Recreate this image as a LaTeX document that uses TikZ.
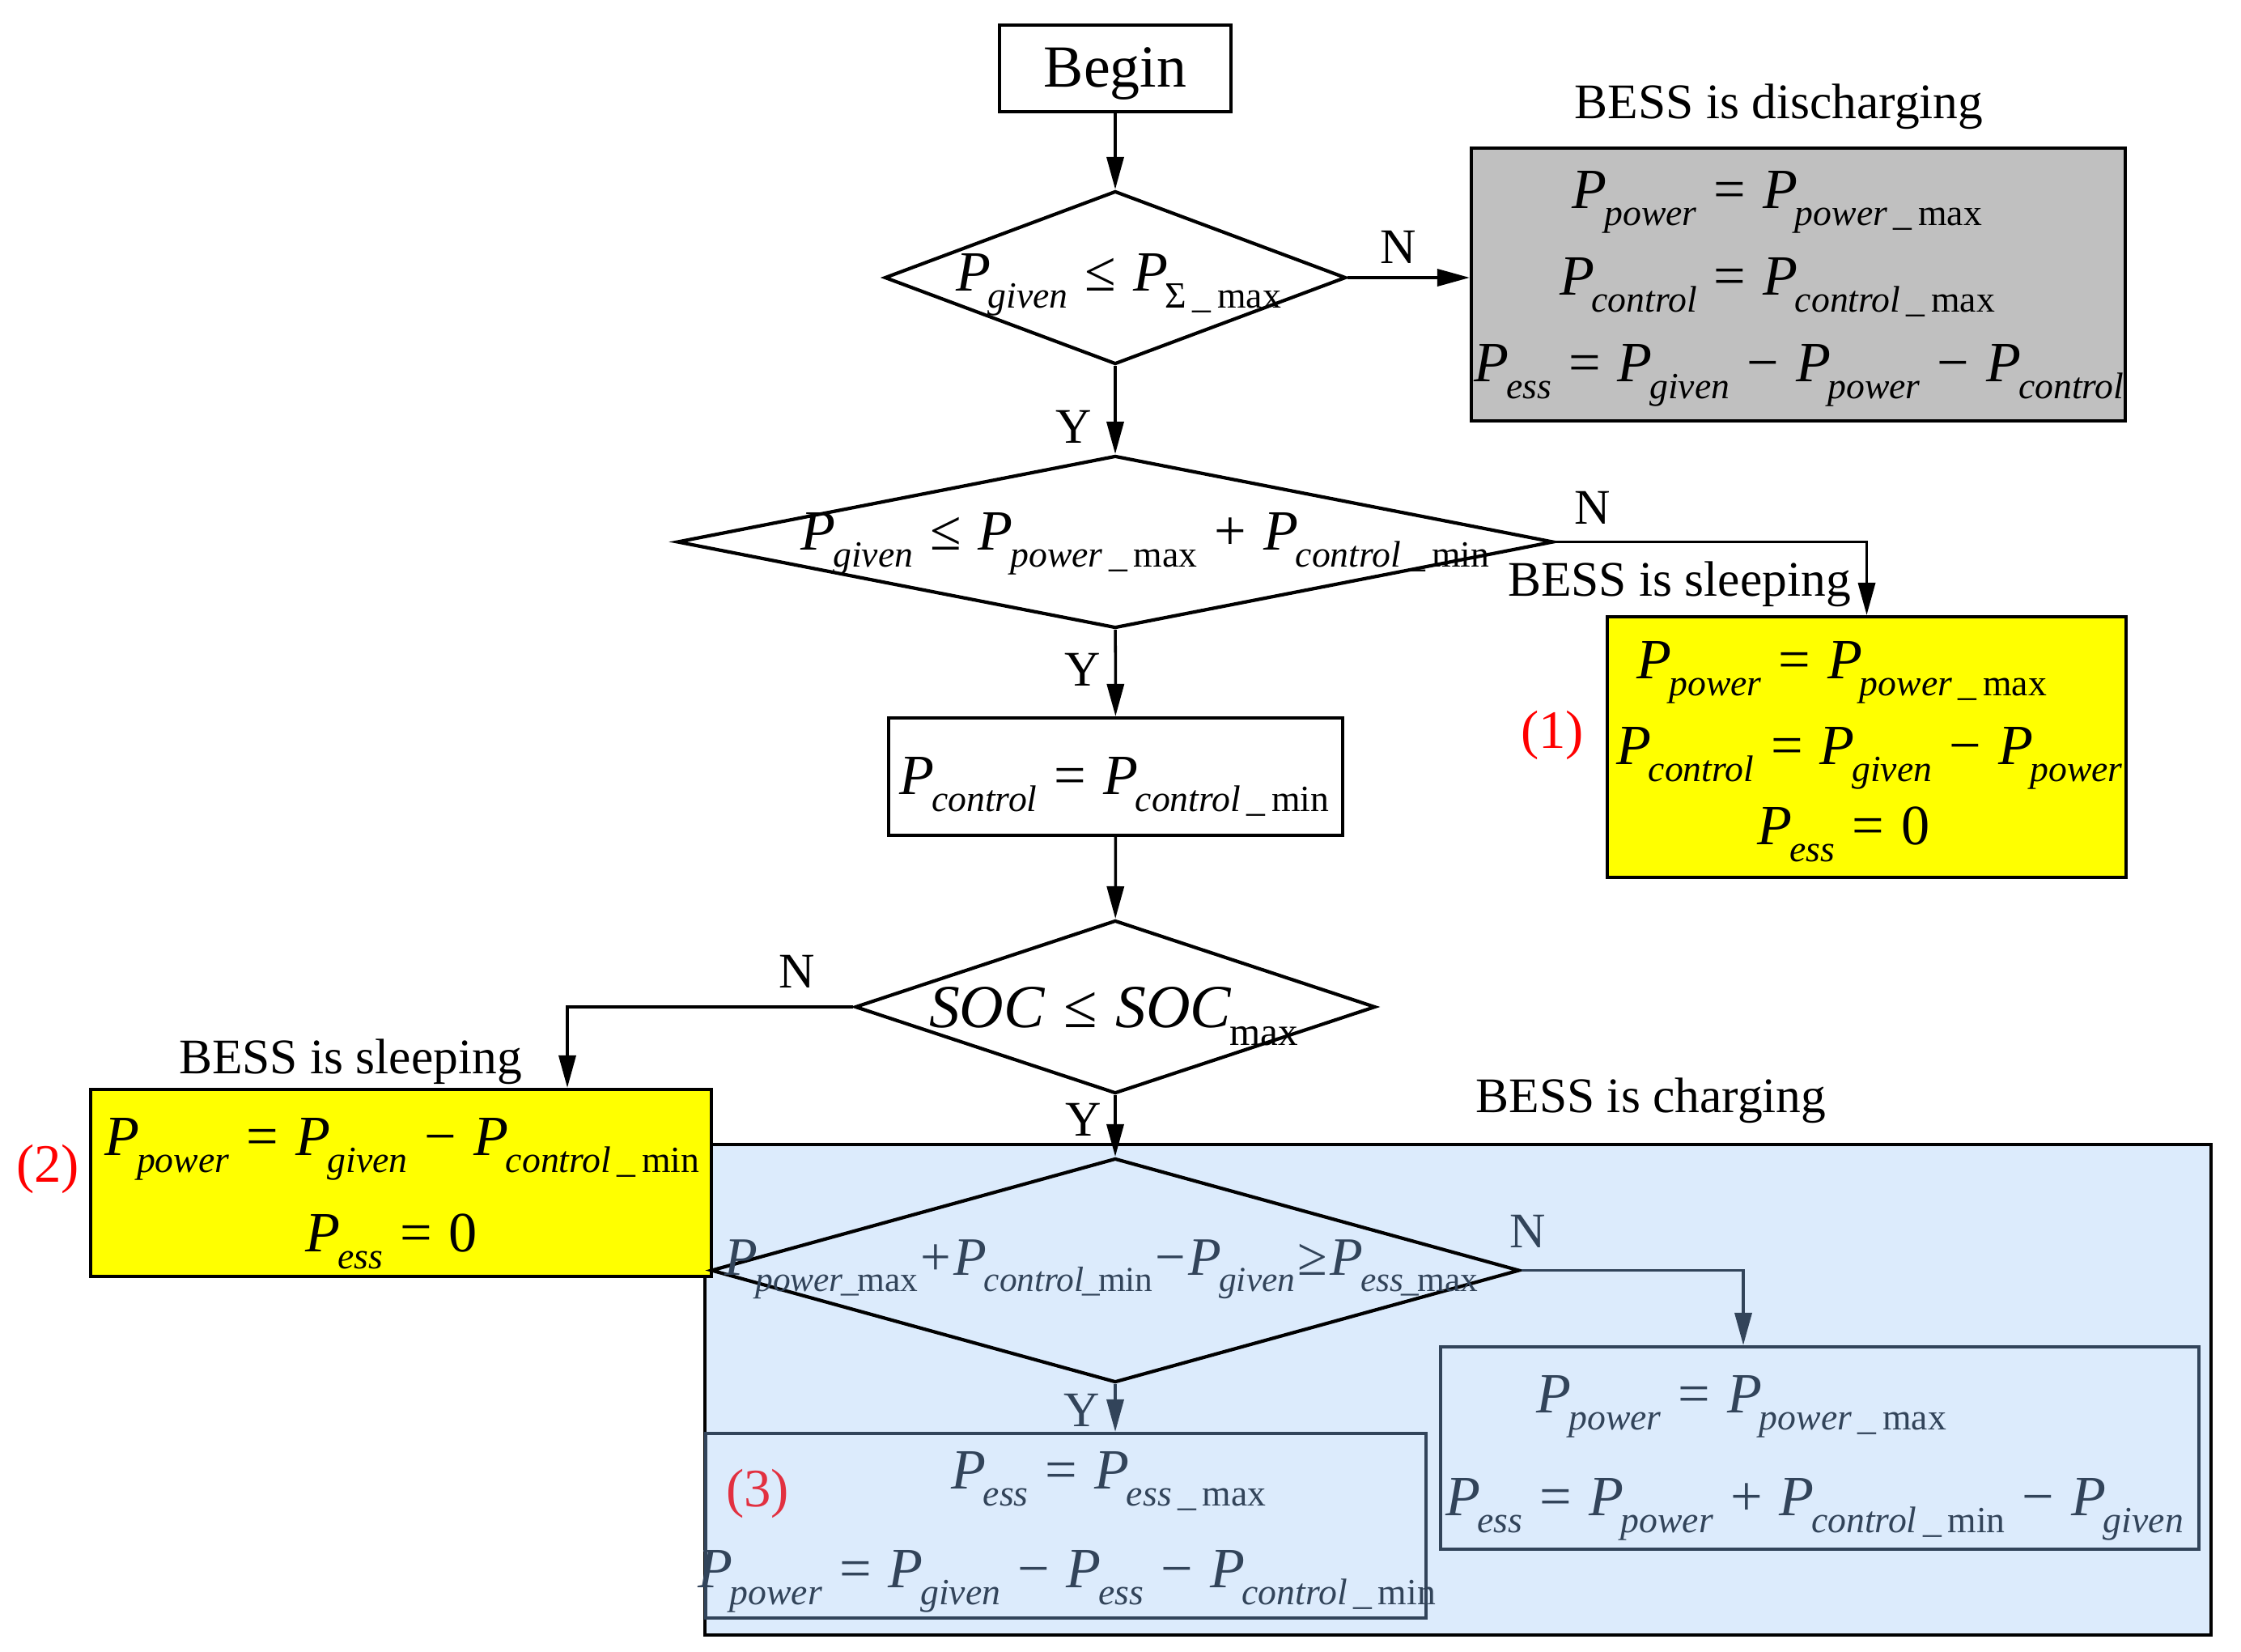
\documentclass[tikz,border=0pt]{standalone}
\usepackage{fontspec}
\usepackage{graphicx}
\setmainfont{Liberation Serif}
\usetikzlibrary{shapes.geometric,arrows.meta,calc}
\definecolor{slate}{RGB}{50,68,90}
\definecolor{chargefill}{RGB}{220,235,252}
\definecolor{grayfill}{RGB}{192,192,192}
\definecolor{eqred}{RGB}{226,48,64}
\definecolor{pureyellow}{RGB}{255,255,0}
\definecolor{purered}{RGB}{255,0,0}
\newcommand{\Pq}[1]{\textit{P}\kern-0.05em\raisebox{-0.3em}{\scalebox{0.65}{#1}}}
\newcommand{\uu}{\,\_\,}
\newcommand{\tu}{\kern-0.05em\_\kern-0.05em}
\newcommand{\eqo}[1]{\hspace{0.3em}#1\hspace{0.3em}}
\newcommand{\tgo}[1]{\hspace{0.05em}#1\hspace{0.05em}}
\tikzset{
  flow/.style={draw, line width=1.2pt},
  procbox/.style={flow, rectangle, inner sep=0pt},
  decision/.style={flow, diamond, inner sep=0pt, text width=0pt},
  fml/.style={anchor=base, inner sep=0pt, font=\fontsize{20pt}{24pt}\selectfont},
  lbl/.style={anchor=base, inner sep=0pt, font=\fontsize{17.5pt}{21pt}\selectfont},
  yn/.style={inner sep=0pt, font=\fontsize{17.5pt}{21pt}\selectfont},
  eqnum/.style={inner sep=0pt, font=\fontsize{19pt}{22pt}\selectfont},
  arr/.style={line width=1pt, -{Triangle[length=4mm,width=2.1mm]}},
}
\begin{document}
\begin{tikzpicture}
\useasboundingbox (0,0) rectangle (27.69,-20.40);
\fill[white] (0,0) rectangle (27.69,-20.40);

% charging region background (drawn first)
\node[procbox, fill=chargefill, minimum width=18.61cm, minimum height=6.06cm] (chg) at (18.015,-17.17) {};

% Begin
\node[procbox, minimum width=2.86cm, minimum height=1.07cm] (begin) at (13.78,-0.845) {};
\node[anchor=base, inner sep=0pt, font=\fontsize{21pt}{25pt}\selectfont] (begint) at (13.78,-1.07) {Begin};

% decision 1
\node[decision, minimum width=5.70cm, minimum height=2.14cm] (d1) at (13.78,-3.43) {};
\node[fml] (d1t) at (13.82,-3.59) {\Pq{\textit{given}}\eqo{≤}\Pq{Σ\uu max}};

% discharging
\node[procbox, fill=grayfill, minimum width=8.08cm, minimum height=3.37cm] (dis) at (22.22,-3.515) {};
\node[lbl] (disl) at (21.98,-1.46) {BESS is discharging};
\node[fml] (dis1) at (21.96,-2.57) {\Pq{\textit{power}}\eqo{=}\Pq{\textit{power}\uu max}};
\node[fml] (dis2) at (21.96,-3.64) {\Pq{\textit{control}}\eqo{=}\Pq{\textit{control}\uu max}};
\node[fml] (dis3) at (22.23,-4.71) {\Pq{\textit{ess}}\eqo{=}\Pq{\textit{given}}\eqo{−}\Pq{\textit{power}}\eqo{−}\Pq{\textit{control}}};

% decision 2
\node[decision, minimum width=10.83cm, minimum height=2.13cm] (d2) at (13.78,-6.695) {};
\node[fml] (d2t) at (14.15,-6.79) {\Pq{\textit{given}}\eqo{≤}\Pq{\textit{power}\uu max}\eqo{+}\Pq{\textit{control}\uu min}};

% sleeping 1
\node[procbox, fill=pureyellow, minimum width=6.41cm, minimum height=3.22cm] (yel1) at (23.065,-9.23) {};
\node[lbl] (sl1) at (20.75,-7.36) {BESS is sleeping};
\node[eqnum, text=purered] (n1) at (19.18,-9.08) {(1)};
\node[fml] (y11) at (22.76,-8.38) {\Pq{\textit{power}}\eqo{=}\Pq{\textit{power}\uu max}};
\node[fml] (y12) at (23.10,-9.44) {\Pq{\textit{control}}\eqo{=}\Pq{\textit{given}}\eqo{−}\Pq{\textit{power}}};
\node[fml] (y13) at (22.78,-10.43) {\Pq{\textit{ess}}\eqo{=}0};

% P_control box
\node[procbox, minimum width=5.61cm, minimum height=1.45cm] (ctrl) at (13.785,-9.595) {};
\node[fml] (ctrlt) at (13.77,-9.81) {\Pq{\textit{control}}\eqo{=}\Pq{\textit{control}\uu min}};

% decision 3
\node[decision, minimum width=6.43cm, minimum height=2.14cm] (d3) at (13.78,-12.44) {};
\node[fml, font=\fontsize{21.5pt}{25pt}\selectfont] (d3t) at (13.76,-12.69) {\textit{SOC}\eqo{≤}\textit{SOC}\kern-0.03em\raisebox{-0.3em}{\scalebox{0.65}{max}}};

% sleeping 2
\node[procbox, fill=pureyellow, minimum width=7.67cm, minimum height=2.31cm] (yel2) at (4.955,-14.615) {};
\node[lbl] (sl2) at (4.33,-13.26) {BESS is sleeping};
\node[eqnum, text=purered] (n2) at (0.59,-14.44) {(2)};
\node[fml] (y21) at (4.97,-14.27) {\Pq{\textit{power}}\eqo{=}\Pq{\textit{given}}\eqo{−}\Pq{\textit{control}\uu min}};
\node[fml] (y22) at (4.84,-15.46) {\Pq{\textit{ess}}\eqo{=}0};

% charging
\node[lbl] (chl) at (20.40,-13.74) {BESS is charging};
\node[decision, minimum width=9.99cm, minimum height=2.77cm] (d4) at (13.78,-15.695) {};
\node[fml, text=slate, font=\fontsize{19pt}{23pt}\selectfont] (d4t) at (13.61,-15.75) {\Pq{\textit{power}\tu max}\tgo{+}\Pq{\textit{control}\tu min}\tgo{−}\Pq{\textit{given}}\tgo{≥}\Pq{\textit{ess}\tu max}};

\node[procbox, draw=slate, minimum width=9.37cm, minimum height=2.50cm] (rbox) at (22.485,-17.89) {};
\node[fml, text=slate] (r1) at (21.52,-17.45) {\Pq{\textit{power}}\eqo{=}\Pq{\textit{power}\uu max}};
\node[fml, text=slate] (r2) at (22.42,-18.72) {\Pq{\textit{ess}}\eqo{=}\Pq{\textit{power}}\eqo{+}\Pq{\textit{control}\uu min}\eqo{−}\Pq{\textit{given}}};

\node[procbox, draw=slate, minimum width=8.90cm, minimum height=2.28cm] (lbox) at (13.17,-18.85) {};
\node[eqnum, text=eqred] (n3) at (9.36,-18.45) {(3)};
\node[fml, text=slate] (l1) at (13.70,-18.39) {\Pq{\textit{ess}}\eqo{=}\Pq{\textit{ess}\uu max}};
\node[fml, text=slate] (l2) at (13.18,-19.61) {\Pq{\textit{power}}\eqo{=}\Pq{\textit{given}}\eqo{−}\Pq{\textit{ess}}\eqo{−}\Pq{\textit{control}\uu min}};

% connectors
\coordinate (x2) at (7.01,0);
\coordinate (x4) at (21.54,0);
\draw[arr] (begin) -- (d1);
\draw[arr] (d1.east) -- (d1.east -| dis.west);
\draw[arr] (d1) -- (d2);
\draw[arr] (d2.east) -| (yel1.north);
\draw[arr] (d2) -- (ctrl);
\draw[arr] (ctrl) -- (d3);
\draw[arr] (d3.west) -| (x2 |- yel2.north);
\draw[arr] (d3) -- (d4);
\draw[arr, draw=slate] (d4.east) -| (x4 |- rbox.north);
\draw[arr, draw=slate] (d4.south) -- (d4.south |- lbox.north);

% Y / N labels
\node[yn] (nA) at (17.28,-3.05) {N};
\node[yn] (yA) at (13.27,-5.27) {Y};
\node[yn] (nB) at (19.68,-6.27) {N};
\node[yn] (yB) at (13.38,-8.27) {Y};
\node[yn] (nC) at (9.85,-12.00) {N};
\node[yn] (yC) at (13.39,-13.83) {Y};
\node[yn, text=slate] (nD) at (18.88,-15.21) {N};
\node[yn, text=slate] (yD) at (13.37,-17.42) {Y};
\end{tikzpicture}
\end{document}
